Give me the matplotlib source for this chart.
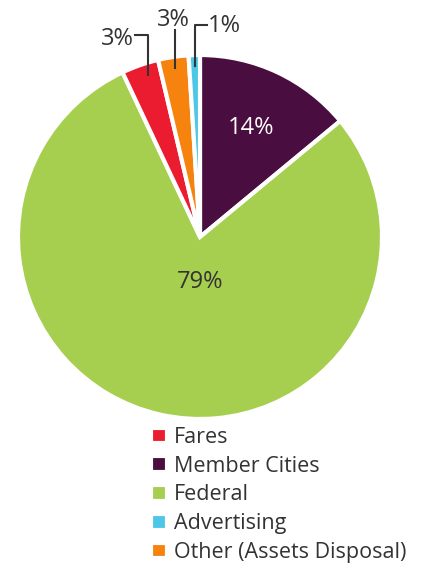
import matplotlib.pyplot as plt
import numpy as np

# data (clockwise from 12 o'clock)
categories = ["Member Cities", "Federal", "Fares", "Other (Assets Disposal)", "Advertising"]
shares = [14, 79, 3.3, 2.7, 1]
labels = ["14%", "79%", "3%", "3%", "1%"]
colors = ["#4A0D40", "#A7CF4F", "#EC1C30", "#F7830F", "#4CC7E8"]
legend_order = ["Fares", "Member Cities", "Federal", "Advertising", "Other (Assets Disposal)"]

plt.rcParams['font.family'] = ['Open Sans', 'DejaVu Sans']
TXT = "#333333"

fig = plt.figure(figsize=(4.33, 5.63), dpi=100)
ax = fig.add_axes([18 / 433, (563 - 237 - 182) / 563, 364 / 433, 364 / 563])

wedges, _ = ax.pie(shares, colors=colors, startangle=90, counterclock=False,
                   wedgeprops=dict(edgecolor="white", linewidth=3))
ax.set_xlim(-1, 1)
ax.set_ylim(-1, 1)
ax.set_aspect("equal")
ax.axis("off")


def mid_angle(w):
    return np.deg2rad((w.theta1 + w.theta2) / 2)


# inner labels
a = mid_angle(wedges[0])
ax.text(0.66 * np.cos(a), 0.66 * np.sin(a), labels[0], color="white",
        fontsize=17, ha="center", va="center")
ax.text(0, -0.25, labels[1], color=TXT, fontsize=17, ha="center", va="center")

# outer labels with elbow leaders
for i in [2, 3, 4]:
    a = mid_angle(wedges[i])
    x0, y0 = 0.94 * np.cos(a), 0.94 * np.sin(a)
    if i == 2:
        x0 = -0.285
        ax.plot([x0, x0, x0 - 0.07], [y0, 1.11, 1.11], color=TXT, lw=1.5, clip_on=False)
        ax.text(x0 - 0.08, 1.09, labels[i], color=TXT, fontsize=17, ha="right", va="center")
    elif i == 3:
        ax.plot([x0, x0], [y0, 1.14], color=TXT, lw=1.5, clip_on=False)
        ax.text(x0 - 0.01, 1.19, labels[i], color=TXT, fontsize=17, ha="center", va="center")
    else:
        ax.plot([x0, x0, x0 + 0.07], [y0, 1.165, 1.165], color=TXT, lw=1.5, clip_on=False)
        ax.text(x0 + 0.07, 1.16, labels[i], color=TXT, fontsize=17, ha="left", va="center")

handles = [wedges[categories.index(c)] for c in legend_order]
fig.legend(handles, legend_order, loc="upper left", bbox_to_anchor=(151 / 433, 1 - 427 / 563),
           frameon=False, fontsize=15.5, handlelength=0.75, handleheight=0.75,
           handletextpad=0.3, labelspacing=0.36, borderpad=0, borderaxespad=0,
           labelcolor=TXT)

fig.savefig("out.png", dpi=100)
